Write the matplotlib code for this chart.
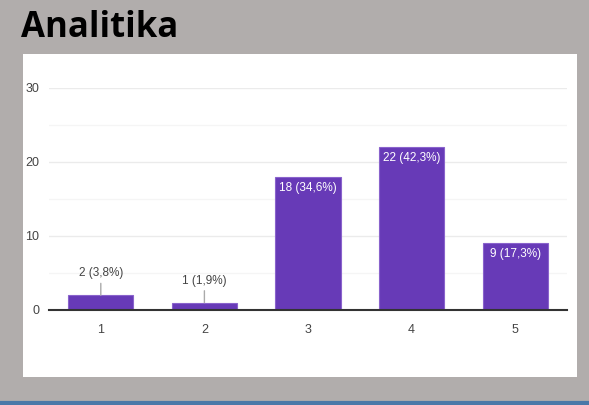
import matplotlib
matplotlib.use("Agg")
import matplotlib.pyplot as plt
from matplotlib.lines import Line2D

title = "Analitika"
categories = ["1", "2", "3", "4", "5"]
counts = [2, 1, 18, 22, 9]
labels = ["2 (3,8%)", "1 (1,9%)", "18 (34,6%)", "22 (42,3%)", "9 (17,3%)"]
yticks = [0, 10, 20, 30]

W, H = 589, 405
fig = plt.figure(figsize=(W / 100, H / 100), dpi=100)
fig.patch.set_facecolor("#b1adac")

narrow = ["Liberation Sans Narrow", "Liberation Sans", "DejaVu Sans"]

# white panel as a background axes
bg = fig.add_axes([23 / W, (H - 377) / H, (577 - 23) / W, (377 - 54) / H])
bg.set_facecolor("white")
bg.set_xticks([])
bg.set_yticks([])
for s in bg.spines.values():
    s.set_visible(False)
bg.set_zorder(0)

# blue bottom line
fig.lines.append(Line2D([0, 1], [(H - 402.5) / H] * 2, transform=fig.transFigure,
                        color="#4a78a8", linewidth=3))

fig.text(21 / W, (H - 28) / H, title, fontsize=25, fontweight="bold", color="black",
         family=["Open Sans", "DejaVu Sans"], va="center", ha="left")

ax = fig.add_axes([49 / W, (H - 310) / H, (567 - 49) / W, (310 - 88) / H])
ax.set_zorder(2)
ax.set_facecolor("none")
x = list(range(len(categories)))
ax.bar(x, counts, width=0.63, color="#673ab7", edgecolor="#8a63cc", linewidth=0.8, zorder=3)
ax.set_xlim(-0.5, len(categories) - 0.5)
ax.set_ylim(0, 30)
ax.set_yticks(yticks)
ax.set_yticks([5, 15, 25], minor=True)
ax.set_xticks(x)
ax.set_xticklabels(categories)
ax.grid(axis="y", which="major", color="#ebebeb", linewidth=1, zorder=0)
ax.grid(axis="y", which="minor", color="#f5f5f5", linewidth=1, zorder=0)
for s in ["top", "right", "left"]:
    ax.spines[s].set_visible(False)
ax.spines["bottom"].set_color("#333333")
ax.spines["bottom"].set_linewidth(1.5)
ax.spines["bottom"].set_zorder(4)
ax.tick_params(axis="both", which="both", length=0, colors="#444444", labelsize=9)
ax.tick_params(axis="x", pad=10)
ax.tick_params(axis="y", pad=7)
for t in ax.get_xticklabels() + ax.get_yticklabels():
    t.set_family(narrow)

for xi, c, lab in zip(x, counts, labels):
    if c < 5:
        ax.annotate(lab, xy=(xi, c), xytext=(0, 22), textcoords="offset pixels",
                    ha="center", va="center", fontsize=8.5, color="#444444", family=narrow,
                    arrowprops=dict(arrowstyle="-", color="#aaaaaa", lw=1, shrinkA=1, shrinkB=0),
                    zorder=5)
    else:
        ax.annotate(lab, xy=(xi, c), xytext=(0, -11), textcoords="offset pixels",
                    ha="center", va="center", fontsize=8.5, color="white", family=narrow, zorder=5)

fig.savefig("out.png", dpi=100, facecolor=fig.get_facecolor())
